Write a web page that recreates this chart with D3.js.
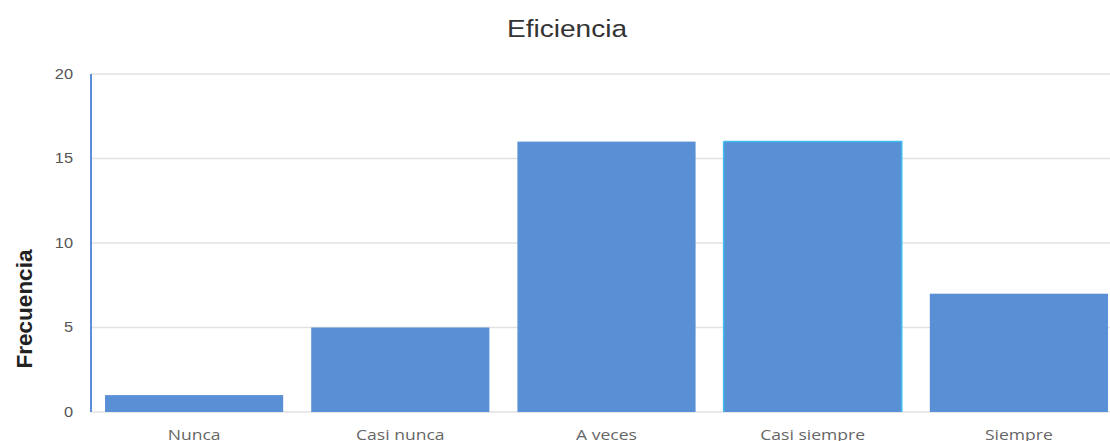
<!DOCTYPE html>
<html>
<head>
<meta charset="utf-8">
<script src="https://cdn.jsdelivr.net/npm/d3@7"></script>
<style>
  body { margin: 0; background: #fff; }
  svg { display: block; font-family: "Liberation Sans", Arial, sans-serif; }
</style>
</head>
<body>
<script>
const categories = ["Nunca", "Casi nunca", "A veces", "Casi siempre", "Siempre"];
const values = [1, 5, 16, 16, 7];
const yTicks = [0, 5, 10, 15, 20];

const w = 1110;
const h = 441;
const sx = 1.17; // the picture is a bit wider than tall, text too

const svg = d3.select("body")
  .append("svg")
  .attr("width", w)
  .attr("height", h);

const x = d3.scaleBand()
  .domain(categories)
  .range([91, 1122])
  .paddingInner(0.136)
  .paddingOuter(0.068);

const y = d3.scaleLinear()
  .domain([0, 20])
  .range([412, 74]);

// gridlines
svg.append("g")
  .selectAll("line")
  .data(yTicks)
  .enter().append("line")
  .attr("x1", 91)
  .attr("x2", w)
  .attr("y1", d => y(d))
  .attr("y2", d => y(d))
  .attr("stroke", "#e2e2e2")
  .attr("stroke-width", 1.5);

// y tick labels
svg.append("g")
  .selectAll("text")
  .data(yTicks)
  .enter().append("text")
  .attr("transform", d => `translate(73,${y(d)}) scale(${sx},1)`)
  .attr("dy", "0.35em")
  .attr("text-anchor", "end")
  .attr("font-size", 14)
  .attr("fill", "#555")
  .text(d => d);

// bars
svg.append("g")
  .selectAll("rect")
  .data(values)
  .enter().append("rect")
  .attr("x", (d, i) => x(categories[i]))
  .attr("width", x.bandwidth())
  .attr("y", d => y(d))
  .attr("height", d => y(0) - y(d))
  .attr("fill", "#5990d5")
  .attr("stroke", (d, i) => i === 3 ? "#3fbdf0" : "none")
  .attr("stroke-width", 1.5)
  .attr("stroke-dasharray", d => {
    const bw = x.bandwidth(), bh = y(0) - y(d);
    return `${bw + bh} ${bw} ${bh}`;
  });

// y axis line
svg.append("line")
  .attr("x1", 91)
  .attr("x2", 91)
  .attr("y1", y(20))
  .attr("y2", y(0))
  .attr("stroke", "#5b8fd6")
  .attr("stroke-width", 2);

// x labels
svg.append("g")
  .selectAll("text")
  .data(categories)
  .enter().append("text")
  .attr("transform", d => `translate(${x(d) + x.bandwidth() / 2},440) scale(${sx},1)`)
  .attr("text-anchor", "middle")
  .attr("font-family", "'Open Sans', sans-serif")
  .attr("font-size", 15)
  .attr("fill", "#666")
  .text(d => d);

// title
svg.append("text")
  .attr("transform", `translate(567,37) scale(${sx},1)`)
  .attr("text-anchor", "middle")
  .attr("font-size", 24)
  .attr("fill", "#333")
  .text("Eficiencia");

// y axis title
svg.append("text")
  .attr("transform", "translate(32,309) rotate(-90)")
  .attr("text-anchor", "middle")
  .attr("font-size", 22.5)
  .attr("font-weight", "bold")
  .attr("fill", "#222")
  .text("Frecuencia");
</script>
</body>
</html>
